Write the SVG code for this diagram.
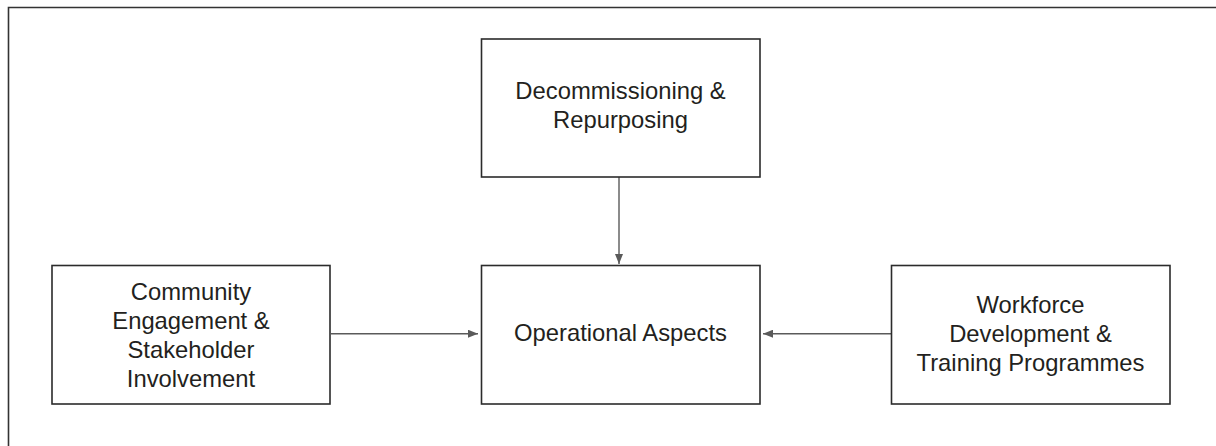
<svg xmlns="http://www.w3.org/2000/svg" width="1216" height="446" viewBox="0 0 1216 446">
  <style>
    .box { fill: #ffffff; stroke: #2b2b2b; stroke-width: 1.6; }
    .lbl { font-family: "Liberation Sans", Arial, Helvetica, sans-serif; font-size: 23.8px; fill: #231f20; text-anchor: middle; }
    .conn { stroke: #5a5a5a; stroke-width: 1.4; fill: none; marker-end: url(#arrow); }
  </style>
  <defs>
    <marker id="arrow" viewBox="0 0 10 8" refX="10" refY="4" markerWidth="10" markerHeight="8" markerUnits="userSpaceOnUse" orient="auto">
      <path d="M0,0 L10,4 L0,8 Z" fill="#5a5a5a"/>
    </marker>
  </defs>
  <rect x="0" y="0" width="1216" height="446" fill="#ffffff"/>
  <path d="M8.5,446 V7.5 H1216" fill="none" stroke="#333333" stroke-width="1.6"/>

  <g id="connectors">
    <line class="conn" x1="619" y1="177" x2="619" y2="264"/>
    <line class="conn" x1="331" y1="333.7" x2="478" y2="333.7"/>
    <line class="conn" x1="891" y1="333.7" x2="763" y2="333.7"/>
  </g>

  <g id="decommissioning">
    <rect class="box" x="481.5" y="39" width="278.5" height="138"/>
    <text class="lbl" x="620.5" y="98.5">Decommissioning &amp;</text>
    <text class="lbl" x="620.5" y="127.5">Repurposing</text>
  </g>

  <g id="community">
    <rect class="box" x="52" y="265.5" width="278" height="138.5"/>
    <text class="lbl" x="191" y="299.5">Community</text>
    <text class="lbl" x="191" y="328.5">Engagement &amp;</text>
    <text class="lbl" x="191" y="357.5">Stakeholder</text>
    <text class="lbl" x="191" y="386.5">Involvement</text>
  </g>

  <g id="operational">
    <rect class="box" x="481.5" y="265.5" width="278.5" height="138.5"/>
    <text class="lbl" x="620.5" y="341">Operational Aspects</text>
  </g>

  <g id="workforce">
    <rect class="box" x="891.5" y="265.5" width="278.5" height="138.5"/>
    <text class="lbl" x="1030.5" y="312.5">Workforce</text>
    <text class="lbl" x="1030.5" y="341.5">Development &amp;</text>
    <text class="lbl" x="1030.5" y="370.5">Training Programmes</text>
  </g>
</svg>
